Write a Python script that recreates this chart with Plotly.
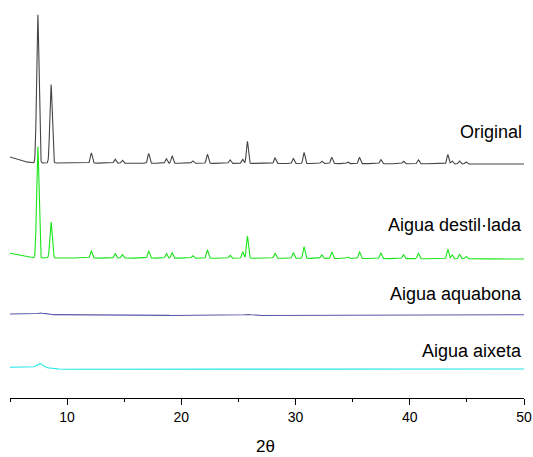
import numpy as np
import plotly.graph_objects as go

# 2θ positions of the reflections (degrees)
peak_pos = [7.43, 8.59, 12.12, 14.2, 14.83, 17.14, 18.69, 19.19, 21.0, 22.28,
            24.26, 25.37, 25.78, 28.2, 29.8, 30.74, 32.29, 33.17, 34.57, 35.6,
            37.46, 39.44, 40.75, 43.33, 43.7, 44.35, 44.93]

# Peak heights above background (arbitrary units, stacked plot)
original_h = [149, 79, 10, 4, 3, 9.5, 4.5, 7.5, 2.5, 9,
              3.5, 4, 22, 5.5, 5, 11, 2.5, 6, 1.5, 6,
              4, 2.5, 4, 9, 3, 3, 2]
destil_h = [112, 36, 7, 4.5, 3.5, 7, 4.5, 5.5, 2.5, 8,
            3, 6.5, 22, 5, 5.5, 11.5, 3.5, 6.5, 1.5, 6.5,
            5.5, 4, 5.5, 9.5, 4, 4.5, 2.5]

# Background level of each pattern (2θ, intensity incl. vertical offset)
original_bg_x = [5.0, 6.0, 7.0, 30.0, 50.0]
original_bg_y = [241, 237, 235, 234.5, 234]
destil_bg_x = [5.0, 6.5, 7.0, 30.0, 50.0]
destil_bg_y = [144.7, 141, 140, 139.7, 139]
aquabona_bg_x = [5.0, 9.0, 20.0, 35.0, 50.0]
aquabona_bg_y = [84, 83.3, 82.5, 82.5, 83.3]
aixeta_bg_x = [5.0, 8.0, 9.5, 30.0, 50.0]
aixeta_bg_y = [30.7, 30.5, 28.8, 28.5, 29]

# Weak broad humps of the samples without crystalline phase
aquabona_pos = [7.7, 25.8]
aquabona_h = [1.5, 1.0]
aquabona_w = [0.3, 0.4]
aixeta_pos = [7.6]
aixeta_h = [4.0]
aixeta_w = [0.25]

labels = ["Original", "Aigua destil·lada", "Aigua aquabona", "Aigua aixeta"]
label_y = [266, 173, 104, 47]
colors = ["#454545", "#19e619", "#5858aa", "#1ee6e6"]

tt = np.arange(5.0, 50.0001, 0.02)


def pattern(bg_x, bg_y, pos, h, w):
    y = np.interp(tt, bg_x, bg_y)
    for p, a, s in zip(pos, h, w):
        y = y + a * np.exp(-0.5 * ((tt - p) / s) ** 2)
    return y


sharp = [0.085] * len(peak_pos)
sharp[0] = 0.1
sharp[1] = 0.1

series = [
    pattern(original_bg_x, original_bg_y, peak_pos, original_h, sharp),
    pattern(destil_bg_x, destil_bg_y, peak_pos, destil_h, sharp),
    pattern(aquabona_bg_x, aquabona_bg_y, aquabona_pos, aquabona_h, aquabona_w),
    pattern(aixeta_bg_x, aixeta_bg_y, aixeta_pos, aixeta_h, aixeta_w),
]

fig = go.Figure()
for name, y, c in zip(labels, series, colors):
    fig.add_trace(go.Scatter(x=tt, y=y, mode="lines", name=name,
                             line=dict(color=c, width=1.1), hoverinfo="skip"))

for name, ly in zip(labels, label_y):
    fig.add_annotation(x=50, y=ly, xref="x", yref="y", text=name,
                       showarrow=False, xanchor="right", yanchor="middle",
                       font=dict(size=18, color="#000000"))

fig.add_annotation(x=0.498, y=-0.125, xref="paper", yref="paper", text="2θ",
                   showarrow=False, xanchor="center", yanchor="middle",
                   font=dict(size=17, color="#000000"))

fig.update_layout(
    width=533, height=457,
    margin=dict(l=10, r=9, t=14, b=59, autoexpand=False),
    paper_bgcolor="white", plot_bgcolor="white",
    showlegend=False,
    font=dict(family="Liberation Sans, Arial, sans-serif", color="#000000"),
    xaxis=dict(range=[5, 50], showline=True, linecolor="#000000", linewidth=1,
               ticks="outside", ticklen=6, tickwidth=1, tickcolor="#000000",
               tickvals=[10, 20, 30, 40, 50], tickfont=dict(size=14),
               showgrid=False, zeroline=False, automargin=False,
               minor=dict(ticks="outside", ticklen=3, tickwidth=1,
                          tickcolor="#000000", dtick=5, tick0=0)),
    yaxis=dict(range=[0, 384], visible=False, showgrid=False, zeroline=False),
)

fig.write_html("out.html")
